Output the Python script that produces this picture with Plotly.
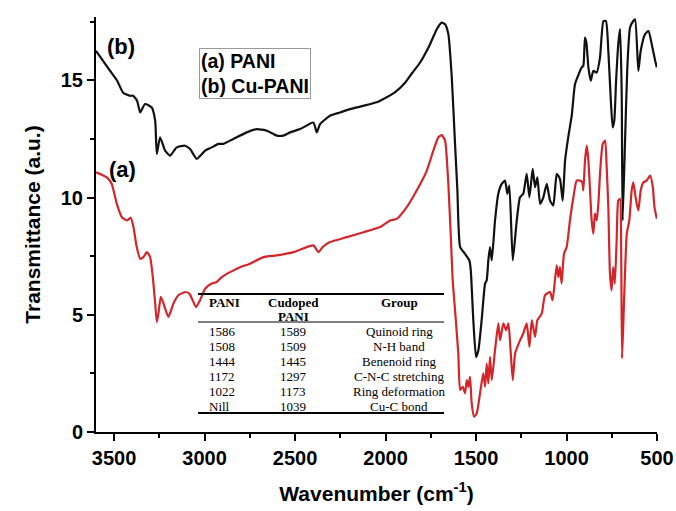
import plotly.graph_objects as go

# ---------------- data ----------------
wn_b = [3600, 3561, 3522, 3483, 3450, 3412, 3395, 3373, 3356, 3329, 3292, 3273, 3264, 3246, 3218, 3191,
        3154, 3108, 3080, 3043, 2997, 2960, 2924, 2896, 2841, 2767, 2712, 2656, 2601, 2565, 2528, 2472,
        2399, 2380, 2362, 2307, 2251, 2196, 2123, 2049, 2030, 1947, 1892, 1854, 1809, 1754, 1717, 1689,
        1671, 1653, 1634, 1616, 1603, 1588, 1561, 1537, 1529, 1515, 1500, 1487, 1469, 1450, 1441, 1432,
        1423, 1413, 1395, 1377, 1358, 1340, 1327, 1316, 1297, 1275, 1257, 1239, 1220, 1205, 1187, 1174,
        1161, 1146, 1128, 1109, 1091, 1073, 1054, 1036, 1021, 1008, 990, 971, 953, 929, 916, 907,
        898, 890, 879, 866, 852, 833, 815, 796, 782, 769, 756, 745, 736, 726, 714, 704,
        695, 690, 677, 664, 649, 631, 621, 603, 590, 566, 547, 529, 510, 501]
tr_b = [16.26, 15.83, 15.40, 14.98, 14.47, 14.34, 14.34, 14.13, 13.63, 13.99, 13.84, 13.28, 11.86, 12.57, 12.00, 11.79,
        12.14, 12.21, 12.07, 11.65, 12.00, 12.14, 12.29, 12.29, 12.50, 12.78, 12.92, 12.85, 12.64, 12.64, 12.78, 12.92,
        13.20, 12.78, 13.13, 13.49, 13.63, 13.77, 13.91, 14.06, 14.13, 14.50, 14.90, 15.30, 15.76, 16.54, 17.18, 17.46,
        17.39, 16.97, 15.12, 12.29, 10.30, 7.89, 7.60, 7.32, 6.89, 4.77, 3.20, 3.49, 4.77, 6.33, 6.47, 7.32,
        7.89, 7.32, 9.02, 10.16, 10.58, 10.72, 10.16, 10.51, 7.32, 9.02, 10.01, 10.16, 11.01, 10.01, 11.22, 10.44,
        10.86, 9.73, 10.01, 10.58, 9.87, 9.66, 11.01, 10.79, 9.87, 11.57, 12.60, 13.50, 14.84, 15.33, 15.55, 15.62,
        16.82, 16.60, 15.55, 14.98, 15.40, 15.33, 15.97, 17.53, 17.53, 16.26, 14.27, 12.99, 13.28, 14.98, 16.54, 17.18,
        14.41, 9.02, 12.29, 15.55, 17.25, 17.53, 17.60, 15.40, 16.26, 16.97, 17.10, 16.54, 15.83, 15.55]

wn_a = [3600, 3540, 3513, 3485, 3457, 3430, 3408, 3393, 3375, 3356, 3338, 3319, 3301, 3286, 3273, 3264,
        3255, 3242, 3227, 3200, 3172, 3145, 3108, 3084, 3062, 3047, 3025, 2997, 2960, 2933, 2905, 2859,
        2804, 2749, 2675, 2601, 2509, 2399, 2371, 2347, 2307, 2214, 2122, 2030, 1975, 1938, 1883, 1828,
        1772, 1736, 1708, 1689, 1671, 1653, 1640, 1629, 1616, 1598, 1588, 1573, 1561, 1551, 1542, 1533,
        1524, 1511, 1496, 1478, 1460, 1450, 1441, 1432, 1423, 1413, 1395, 1377, 1367, 1349, 1334, 1321,
        1308, 1297, 1284, 1257, 1239, 1220, 1205, 1192, 1174, 1161, 1137, 1119, 1091, 1077, 1064, 1054,
        1045, 1036, 1027, 1014, 999, 981, 962, 944, 925, 913, 907, 898, 888, 879, 870, 861,
        852, 843, 833, 824, 815, 800, 787, 778, 769, 760, 751, 742, 733, 723, 714, 704,
        698, 693, 682, 667, 653, 640, 631, 621, 612, 603, 590, 575, 557, 538, 523, 514, 501]
tr_a = [11.08, 10.86, 10.58, 9.73, 9.16, 9.02, 9.14, 8.74, 7.89, 7.39, 7.46, 7.67, 7.46, 6.61, 5.48, 4.69,
        5.05, 5.76, 5.48, 4.91, 5.48, 5.83, 5.97, 5.90, 5.55, 5.33, 5.62, 6.11, 6.33, 6.40, 6.61, 6.82,
        7.03, 7.18, 7.46, 7.53, 7.67, 7.96, 7.67, 7.89, 8.10, 8.31, 8.52, 8.74, 9.02, 9.09, 9.59, 10.30,
        11.15, 12.00, 12.57, 12.66, 12.43, 10.58, 8.45, 6.47, 5.20, 3.35, 1.79, 1.93, 1.65, 2.21, 1.93, 2.35,
        1.22, 0.65, 0.80, 1.65, 2.50, 1.93, 2.92, 2.07, 3.20, 2.21, 3.49, 4.63, 3.91, 4.63, 4.34, 4.63,
        3.35, 2.21, 3.35, 3.91, 4.20, 4.63, 3.63, 4.77, 4.06, 4.77, 5.05, 5.83, 5.97, 5.62, 6.47, 7.11,
        6.61, 7.03, 6.33, 7.60, 7.89, 9.02, 10.01, 10.72, 10.72, 10.65, 10.30, 11.57, 12.21, 11.57, 10.30, 9.02,
        8.45, 9.31, 9.02, 9.73, 11.01, 12.29, 12.43, 11.29, 9.59, 6.75, 6.04, 7.03, 6.33, 8.17, 9.87, 9.94,
        7.74, 3.14, 5.62, 8.45, 9.02, 10.30, 10.65, 10.16, 9.73, 9.45, 10.30, 10.65, 10.72, 10.94, 10.44, 9.59, 9.09]

x_ticks = [3500, 3000, 2500, 2000, 1500, 1000, 500]
y_ticks = [0, 5, 10, 15]

legend_lines = ["(a) PANI", "(b) Cu-PANI"]
table_header = ["PANI", "Cudoped", "PANI", "Group"]
col_pani = ["1586", "1508", "1444", "1172", "1022", "Nill"]
col_cu = ["1589", "1509", "1445", "1297", "1173", "1039"]
col_group = ["Quinoid ring", "N-H band", "Benenoid ring", "C-N-C stretching", "Ring deformation", "Cu-C bond"]

# ---------------- layout helpers (pixel -> paper) ----------------
W, H = 676, 511
L, R, T, B = 96, 657, 17, 432


def px(x):
    return (x - L) / (R - L)


def py(y):
    return (B - y) / (B - T)


SANS = "Liberation Sans, Arial, sans-serif"
SERIF = "Liberation Serif, Times New Roman, serif"

fig = go.Figure()
fig.add_trace(go.Scatter(x=wn_b, y=tr_b, mode="lines", name="(b) Cu-PANI",
                         line=dict(color="#111111", width=2.2, shape="spline", smoothing=0.5)))
fig.add_trace(go.Scatter(x=wn_a, y=tr_a, mode="lines", name="(a) PANI",
                         line=dict(color="#d3262b", width=2.2, shape="spline", smoothing=0.5)))


def label(x, y, text, font, xanchor="center", **kw):
    return dict(x=px(x), y=py(y), xref="paper", yref="paper", xanchor=xanchor, yanchor="middle",
                text=text, showarrow=False, font=font, **kw)


big = dict(family=SANS, size=22, color="black")
ann = [
    label(121, 46, "<b>(b)</b>", big),
    label(122, 169, "<b>(a)</b>", big),
    dict(x=px(199), y=py(48), xref="paper", yref="paper", xanchor="left", yanchor="top",
         text="<b>" + "<br>".join(legend_lines) + "</b>", showarrow=False, align="left",
         bordercolor="#9a9a9a", borderwidth=1, borderpad=1,
         font=dict(family=SANS, size=19.5, color="black")),
]

# table
tfont = dict(family=SERIF, size=13, color="black")
ann.append(label(207, 302, "<b>%s</b>" % table_header[0], tfont, xanchor="left"))
ann.append(label(293, 302, "<b>%s</b>" % table_header[1], tfont))
ann.append(label(293, 316, "<b>%s</b>" % table_header[2], tfont))
ann.append(label(399, 302, "<b>%s</b>" % table_header[3], tfont))
row_y = [331, 346.5, 361.5, 376.5, 391.5, 406.5]
for i in range(len(col_pani)):
    ann.append(label(207, row_y[i], col_pani[i], tfont, xanchor="left"))
    ann.append(label(293, row_y[i], col_cu[i], tfont))
    ann.append(label(399, row_y[i], col_group[i], tfont))

shapes = []
for yy, lw in [(294, 2.2), (322, 1.2), (413, 2.2)]:
    shapes.append(dict(type="line", xref="paper", yref="paper", x0=px(198), x1=px(444),
                       y0=py(yy), y1=py(yy), line=dict(color="black", width=lw)))

axis_common = dict(showgrid=False, zeroline=False, showline=True, linecolor="black", linewidth=2,
                   ticks="outside", ticklen=7, tickwidth=2, tickcolor="black", automargin=False,
                   ticklabeloverflow="allow",
                   tickfont=dict(family=SANS, size=20, color="black"))

fig.update_layout(
    width=W, height=H,
    margin=dict(l=L, r=W - R, t=T, b=H - B),
    paper_bgcolor="white", plot_bgcolor="white",
    showlegend=False,
    annotations=ann, shapes=shapes,
    xaxis=dict(range=[3600, 500], tickvals=x_ticks, ticktext=["<b>%d</b>" % v for v in x_ticks],
               minor=dict(dtick=250, tick0=500, ticks="outside", ticklen=4, tickwidth=2, tickcolor="black"),
               title=dict(text="<b>Wavenumber (cm<sup>-1</sup>)</b>", standoff=18,
                          font=dict(family=SANS, size=21, color="black")),
               **axis_common),
    yaxis=dict(range=[0, 17.7], tickvals=y_ticks, ticktext=["<b>%d</b>" % v for v in y_ticks],
               minor=dict(dtick=2.5, tick0=0, ticks="outside", ticklen=4, tickwidth=2, tickcolor="black"),
               title=dict(text="<b>Transmittance (a.u.)</b>", standoff=14,
                          font=dict(family=SANS, size=21, color="black")),
               **axis_common),
)

fig.write_html("out.html")
